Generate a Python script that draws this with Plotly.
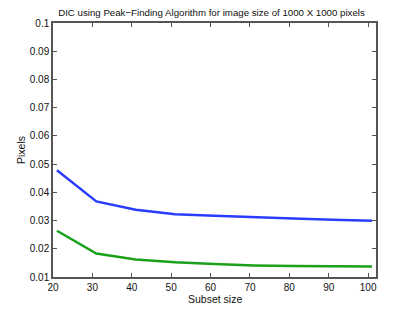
import plotly.graph_objects as go

subset_size = [21, 31, 41, 51, 61, 71, 81, 91, 101]
blue_vals = [0.0478, 0.0368, 0.0338, 0.0322, 0.0317, 0.0311, 0.0307, 0.0303, 0.0299]
green_vals = [0.0264, 0.0183, 0.0162, 0.0152, 0.0146, 0.0141, 0.0139, 0.0138, 0.0137]
x_ticks = [20, 30, 40, 50, 60, 70, 80, 90, 100]
y_ticks = [0.01, 0.02, 0.03, 0.04, 0.05, 0.06, 0.07, 0.08, 0.09, 0.1]
y_labels = ["0.01", "0.02", "0.03", "0.04", "0.05", "0.06", "0.07", "0.08", "0.09", "0.1"]

W, H = 407, 305
L, R, T, B = 45, 39, 15, 36
pw = W - L - R
ph = H - T - B

fig = go.Figure()
fig.add_trace(go.Scatter(x=subset_size, y=blue_vals, mode="lines",
                         line=dict(color="#2a3cff", width=2.5)))
fig.add_trace(go.Scatter(x=subset_size, y=green_vals, mode="lines",
                         line=dict(color="#1aa01a", width=2.5)))

axis_common = dict(showline=True, linecolor="#555555", linewidth=1.5, mirror="ticks",
                   ticks="inside", ticklen=4, tickcolor="#555555", showgrid=False,
                   zeroline=False, tickfont=dict(size=10, color="#111111"))
fig.update_layout(
    width=W, height=H,
    margin=dict(l=L, r=R, t=T, b=B, autoexpand=False),
    paper_bgcolor="white", plot_bgcolor="white",
    showlegend=False,
    font=dict(family="Liberation Sans, Arial, sans-serif", size=10, color="#111111"),
    title=dict(text="DIC using Peak\u2212Finding Algorithm for image size of 1000 X 1000 pixels",
               x=0.5, xanchor="center", y=1 - 5 / H, yanchor="middle",
               font=dict(size=9.7)),
    xaxis=dict(range=[20, 102], tickvals=x_ticks, **axis_common),
    yaxis=dict(range=[0.01, 0.1], tickvals=y_ticks, ticktext=y_labels, **axis_common),
    annotations=[
        dict(text="Subset size", xref="paper", yref="paper", x=0.5,
             y=-(290.5 - (H - B)) / ph, xanchor="center", yanchor="middle",
             showarrow=False, font=dict(size=10.5)),
        dict(text="Pixels", xref="paper", yref="paper", x=-(L - 13) / pw, y=0.5,
             xanchor="center", yanchor="middle", textangle=-90,
             showarrow=False, font=dict(size=10.5)),
    ],
)
fig.write_html("out.html")
